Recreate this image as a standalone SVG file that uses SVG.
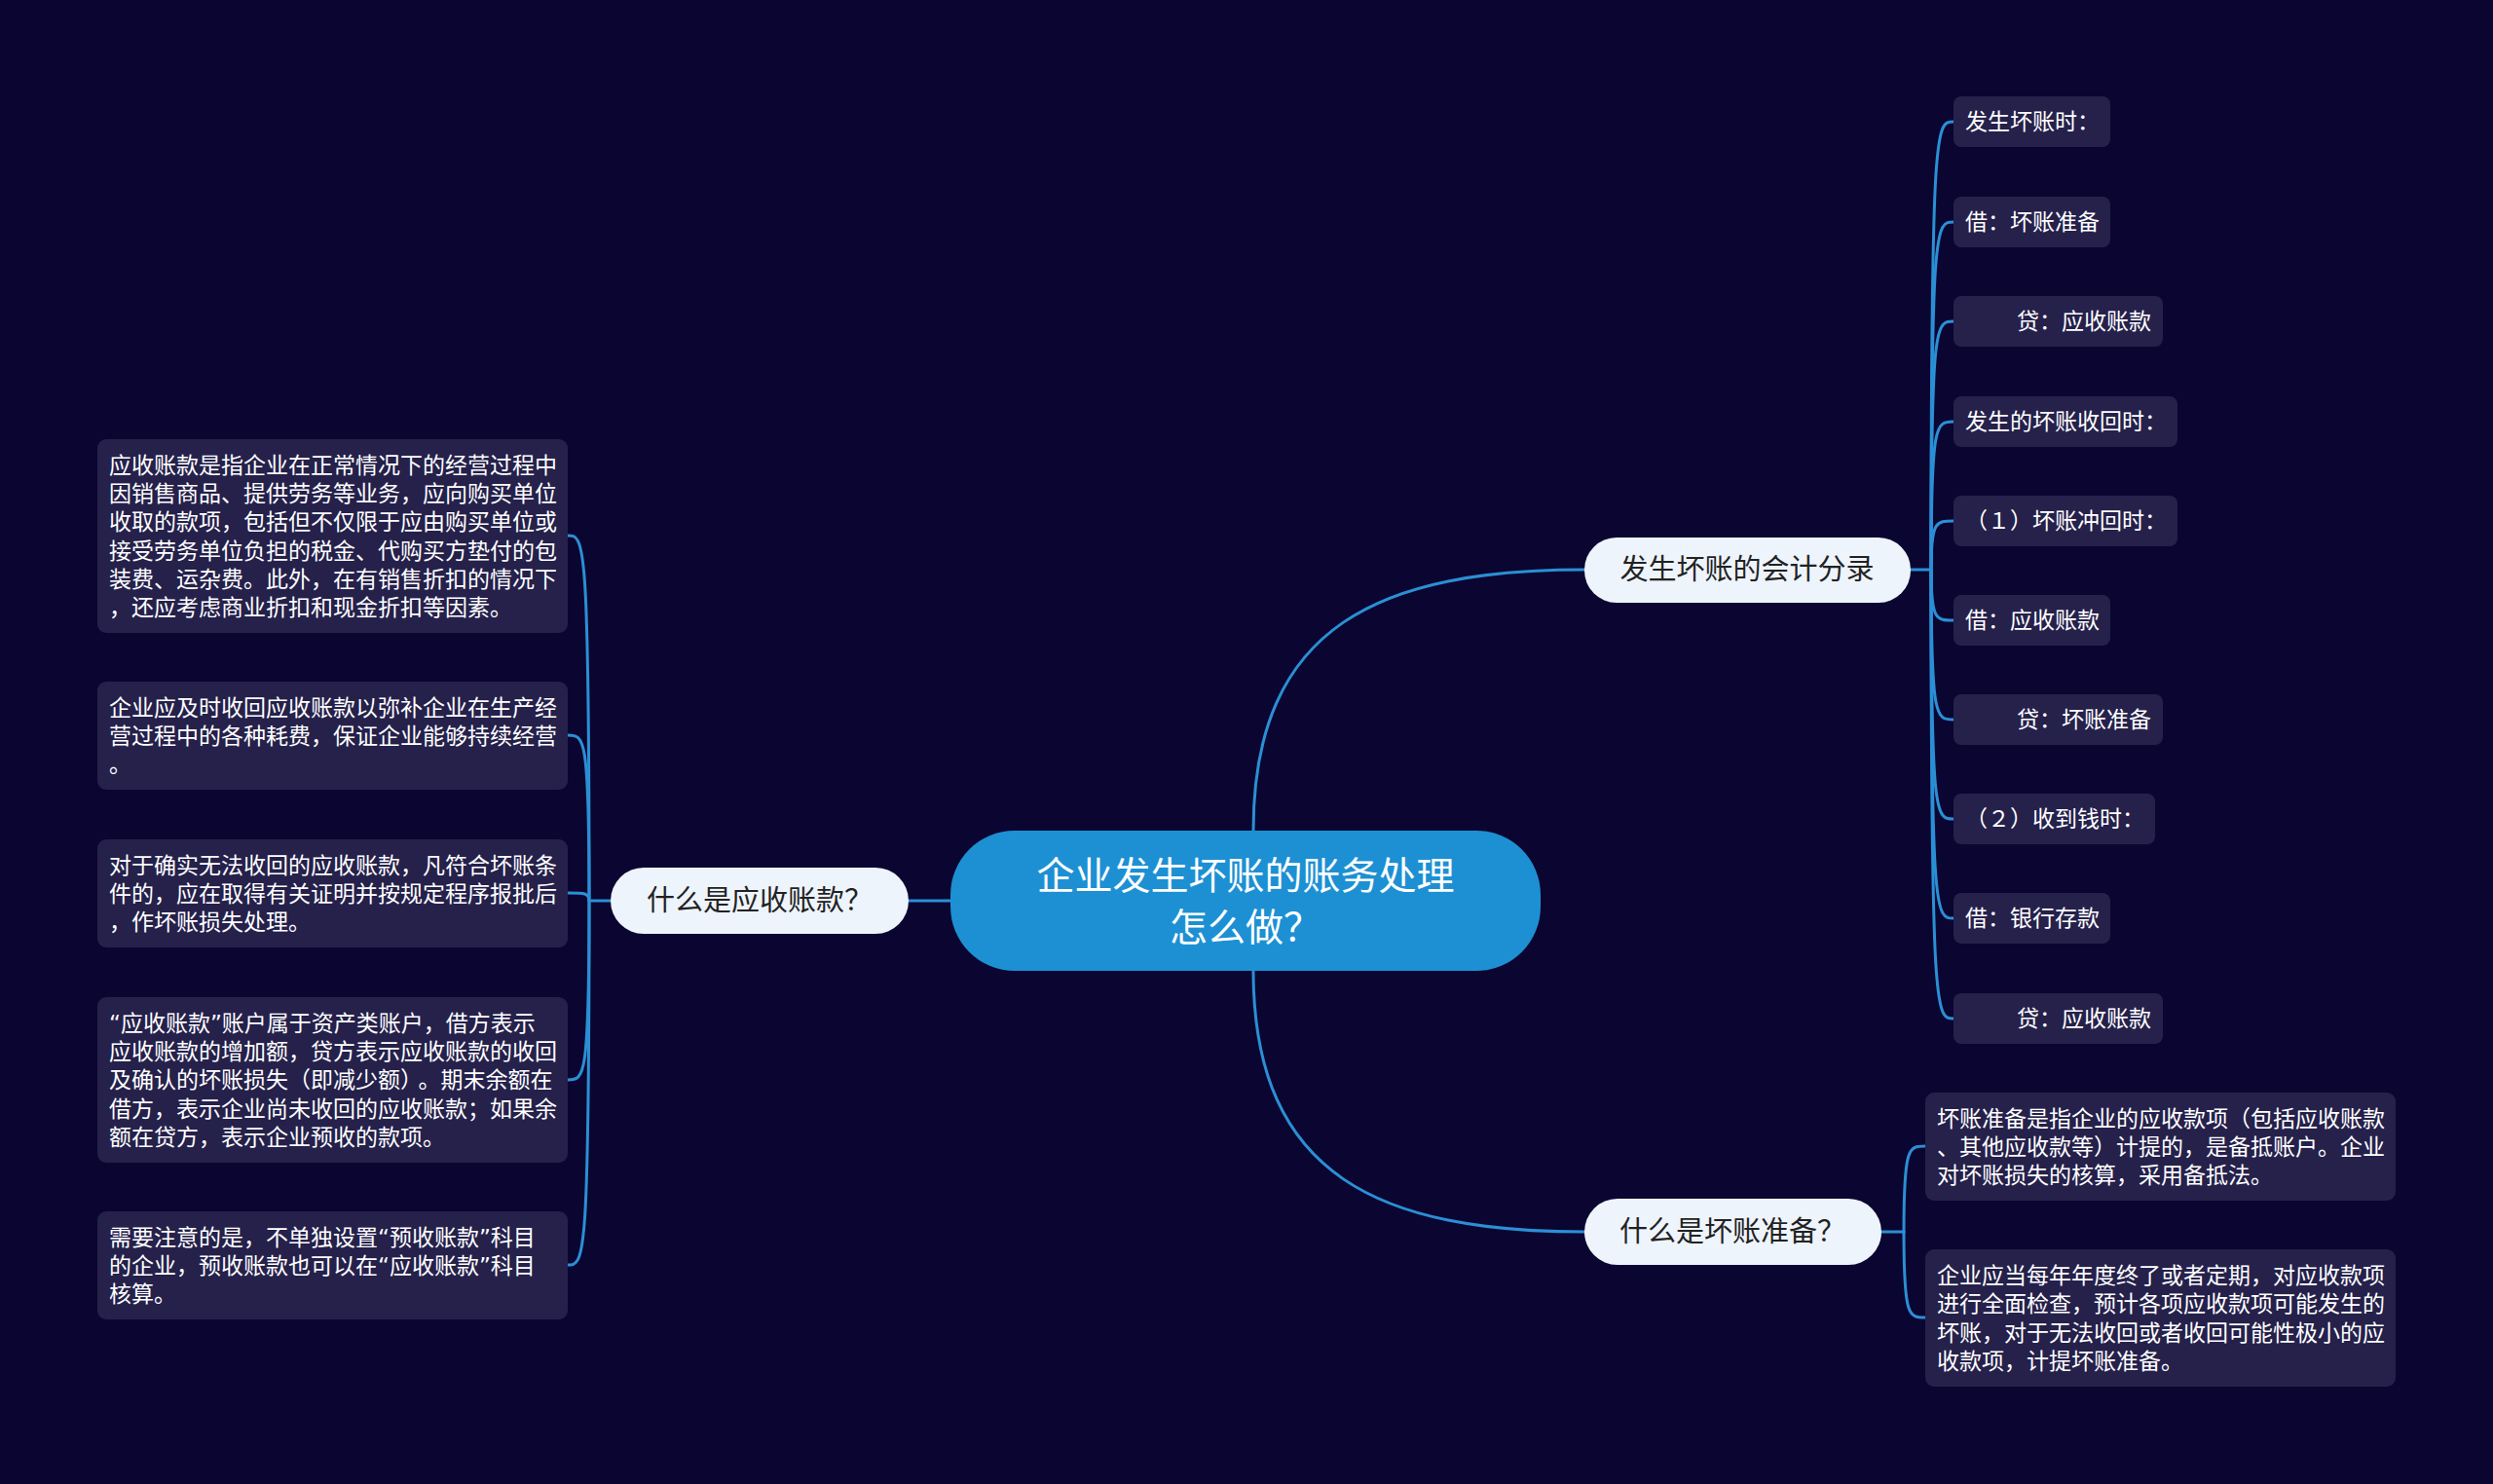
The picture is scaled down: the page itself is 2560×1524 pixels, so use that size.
<svg xmlns="http://www.w3.org/2000/svg" width="2560" height="1524" viewBox="0 0 2560 1524">
<style>
  .bg{fill:#0b0631}
  .ln{fill:none;stroke:#2b8fd5;stroke-width:3;stroke-linecap:round}
  .leaf{fill:#25214b}
  .lt{font-family:"Liberation Sans","Noto Sans CJK SC",sans-serif;font-size:23px;fill:#ffffff}
  .q{font-family:"DejaVu Sans","Noto Sans CJK SC",sans-serif}
  .l1{fill:#eef4fc}
  .l1t{font-family:"Noto Sans CJK SC",sans-serif;font-size:29px;fill:#222222;text-anchor:middle}
  .root{fill:#1d90d3}
  .rt{font-family:"Noto Sans CJK SC",sans-serif;font-size:39px;fill:#ffffff;text-anchor:middle}
</style>
<rect class="bg" x="0" y="0" width="2560" height="1524"/>

<g id="connectors">
  <path class="ln" d="M932 925 H976"/>
  <path class="ln" d="M1287 853 C1287 640 1420 585 1628 585"/>
  <path class="ln" d="M1287 997 C1287 1210 1420 1265 1628 1265"/>
  <path class="ln" d="M627 925 H605"/>
  <path class="ln" d="M605 925 C605 550 600 550 583 550"/>
  <path class="ln" d="M605 925 C605 755 600 755 583 755"/>
  <path class="ln" d="M605 925 C605 917 600 917 583 917"/>
  <path class="ln" d="M605 925 C605 1109 600 1109 583 1109"/>
  <path class="ln" d="M605 925 C605 1299 600 1299 583 1299"/>
  <path class="ln" d="M1962 585 H1983"/>
  <path class="ln" d="M1983 585 C1983 125 1988 125 2006 125"/>
  <path class="ln" d="M1983 585 C1983 228 1988 228 2006 228"/>
  <path class="ln" d="M1983 585 C1983 330 1988 330 2006 330"/>
  <path class="ln" d="M1983 585 C1983 433 1988 433 2006 433"/>
  <path class="ln" d="M1983 585 C1983 535 1988 535 2006 535"/>
  <path class="ln" d="M1983 585 C1983 637 1988 637 2006 637"/>
  <path class="ln" d="M1983 585 C1983 739 1988 739 2006 739"/>
  <path class="ln" d="M1983 585 C1983 841 1988 841 2006 841"/>
  <path class="ln" d="M1983 585 C1983 943 1988 943 2006 943"/>
  <path class="ln" d="M1983 585 C1983 1046 1988 1046 2006 1046"/>
  <path class="ln" d="M1932 1265 H1955"/>
  <path class="ln" d="M1955 1265 C1955 1177 1960 1177 1977 1177"/>
  <path class="ln" d="M1955 1265 C1955 1353 1960 1353 1977 1353"/>
</g>

<g id="root">
  <rect class="root" x="976" y="853" width="606" height="144" rx="66"/>
  <text class="rt" x="1279" y="913">企业发生坏账的账务处理</text>
  <text class="rt" x="1279" y="966">怎么做？</text>
</g>

<g id="n-yszk">
  <rect class="l1" x="627" y="891" width="306" height="68" rx="34"/>
  <text class="l1t" x="780" y="935">什么是应收账款？</text>
</g>
<g id="n-fl">
  <rect class="l1" x="1627" y="552" width="335" height="67" rx="33"/>
  <text class="l1t" x="1794" y="595">发生坏账的会计分录</text>
</g>
<g id="n-hzzb">
  <rect class="l1" x="1627" y="1231" width="305" height="68" rx="34"/>
  <text class="l1t" x="1779" y="1275">什么是坏账准备？</text>
</g>

<g id="left-1">
  <rect class="leaf" x="100" y="451" width="483" height="199" rx="9"/>
  <text class="lt"><tspan x="112" y="486">应收账款是指企业在正常情况下的经营过程中</tspan><tspan x="112" y="515">因销售商品、提供劳务等业务，应向购买单位</tspan><tspan x="112" y="544">收取的款项，包括但不仅限于应由购买单位或</tspan><tspan x="112" y="574">接受劳务单位负担的税金、代购买方垫付的包</tspan><tspan x="112" y="603">装费、运杂费。此外，在有销售折扣的情况下</tspan><tspan x="112" y="632">，还应考虑商业折扣和现金折扣等因素。</tspan></text>
</g>
<g id="left-2">
  <rect class="leaf" x="100" y="700" width="483" height="111" rx="9"/>
  <text class="lt"><tspan x="112" y="735">企业应及时收回应收账款以弥补企业在生产经</tspan><tspan x="112" y="764">营过程中的各种耗费，保证企业能够持续经营</tspan><tspan x="112" y="793">。</tspan></text>
</g>
<g id="left-3">
  <rect class="leaf" x="100" y="862" width="483" height="111" rx="9"/>
  <text class="lt"><tspan x="112" y="897">对于确实无法收回的应收账款，凡符合坏账条</tspan><tspan x="112" y="926">件的，应在取得有关证明并按规定程序报批后</tspan><tspan x="112" y="955">，作坏账损失处理。</tspan></text>
</g>
<g id="left-4">
  <rect class="leaf" x="100" y="1024" width="483" height="170" rx="9"/>
  <text class="lt"><tspan x="112" y="1059"><tspan class="q">“</tspan>应收账款<tspan class="q">”</tspan>账户属于资产类账户，借方表示</tspan><tspan x="112" y="1088">应收账款的增加额，贷方表示应收账款的收回</tspan><tspan x="112" y="1117">及确认的坏账损失（即减少额）<tspan dx="7">。期末余额在</tspan></tspan><tspan x="112" y="1147">借方，表示企业尚未收回的应收账款；如果余</tspan><tspan x="112" y="1176">额在贷方，表示企业预收的款项。</tspan></text>
</g>
<g id="left-5">
  <rect class="leaf" x="100" y="1244" width="483" height="111" rx="9"/>
  <text class="lt"><tspan x="112" y="1279">需要注意的是，不单独设置<tspan class="q">“</tspan>预收账款<tspan class="q">”</tspan>科目</tspan><tspan x="112" y="1308">的企业，预收账款也可以在<tspan class="q">“</tspan>应收账款<tspan class="q">”</tspan>科目</tspan><tspan x="112" y="1337">核算。</tspan></text>
</g>

<g id="r-1"><rect class="leaf" x="2006" y="99" width="161" height="52" rx="8"/><text class="lt" x="2018" y="133">发生坏账时：</text></g>
<g id="r-2"><rect class="leaf" x="2006" y="202" width="161" height="52" rx="8"/><text class="lt" x="2018" y="236">借：坏账准备</text></g>
<g id="r-3"><rect class="leaf" x="2006" y="304" width="215" height="52" rx="8"/><text class="lt" x="2071" y="338">贷：应收账款</text></g>
<g id="r-4"><rect class="leaf" x="2006" y="407" width="230" height="52" rx="8"/><text class="lt" x="2018" y="441">发生的坏账收回时：</text></g>
<g id="r-5"><rect class="leaf" x="2006" y="509" width="230" height="52" rx="8"/><text class="lt" x="2018" y="543">（１）坏账冲回时：</text></g>
<g id="r-6"><rect class="leaf" x="2006" y="611" width="161" height="52" rx="8"/><text class="lt" x="2018" y="645">借：应收账款</text></g>
<g id="r-7"><rect class="leaf" x="2006" y="713" width="215" height="52" rx="8"/><text class="lt" x="2071" y="747">贷：坏账准备</text></g>
<g id="r-8"><rect class="leaf" x="2006" y="815" width="207" height="52" rx="8"/><text class="lt" x="2018" y="849">（２）收到钱时：</text></g>
<g id="r-9"><rect class="leaf" x="2006" y="917" width="161" height="52" rx="8"/><text class="lt" x="2018" y="951">借：银行存款</text></g>
<g id="r-10"><rect class="leaf" x="2006" y="1020" width="215" height="52" rx="8"/><text class="lt" x="2071" y="1054">贷：应收账款</text></g>

<g id="rb-1">
  <rect class="leaf" x="1977" y="1122" width="483" height="111" rx="9"/>
  <text class="lt"><tspan x="1989" y="1157">坏账准备是指企业的应收款项（包括应收账款</tspan><tspan x="1989" y="1186">、其他应收款等）计提的，是备抵账户。企业</tspan><tspan x="1989" y="1215">对坏账损失的核算，采用备抵法。</tspan></text>
</g>
<g id="rb-2">
  <rect class="leaf" x="1977" y="1283" width="483" height="141" rx="9"/>
  <text class="lt"><tspan x="1989" y="1318">企业应当每年年度终了或者定期，对应收款项</tspan><tspan x="1989" y="1347">进行全面检查，预计各项应收款项可能发生的</tspan><tspan x="1989" y="1377">坏账，对于无法收回或者收回可能性极小的应</tspan><tspan x="1989" y="1406">收款项，计提坏账准备。</tspan></text>
</g>
</svg>
